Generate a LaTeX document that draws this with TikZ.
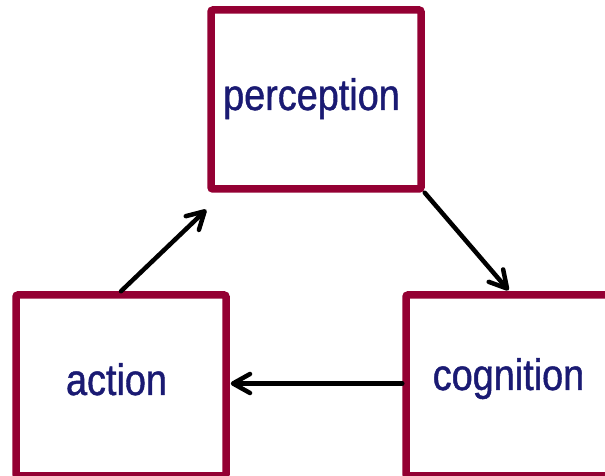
\documentclass[tikz,border=0pt]{standalone}
\usepackage{fontspec}
\setmainfont{Liberation Sans}[FakeStretch=0.86, FakeBold=1]
\usetikzlibrary{arrows.meta}

\definecolor{boxred}{RGB}{148,0,51}
\definecolor{labelblue}{RGB}{26,26,115}

\tikzset{
  stage/.style={draw=boxred, line width=7.5pt, rounded corners=2pt,
    fill=white, inner sep=0pt},
  stagename/.style={text=labelblue, anchor=base, inner sep=0pt,
    font=\fontsize{44}{50}\selectfont},
  flow/.style={line width=4.5pt, line cap=round,
    -{Straight Barb[length=17pt,width=19pt,round]}}
}

\begin{document}
\begin{tikzpicture}[x=1pt,y=1pt]
\path[use as bounding box, clip] (0,0) rectangle (605,476);

% BOXES
\node[stage, minimum width=210pt, minimum height=179pt] (perception) at (316,376.5) {};
\node[stage, minimum width=210pt, minimum height=181pt] (action) at (121,90.5) {};
\node[stage, minimum width=205pt, minimum height=181pt] (cognition) at (508.5,90.5) {};

% LABELS
\node[stagename] (perceptionlabel) at ([shift={(-4.5,-10.5)}]perception.center) {perception};
\node[stagename] (actionlabel) at ([shift={(-4.5,-9.5)}]action.center) {action};
\node[stagename] (cognitionlabel) at ([shift={(0,-4.5)}]cognition.center) {cognition};

% ARROWS
\draw[flow] (action.north) -- ([shift={(-1,-17)}]perception.south west);
\draw[flow] (perception.south east) -- ([yshift=1pt]cognition.north);
\draw[flow] ([yshift=2pt]cognition.west) -- ([shift={(1,2)}]action.east);

\end{tikzpicture}
\end{document}
